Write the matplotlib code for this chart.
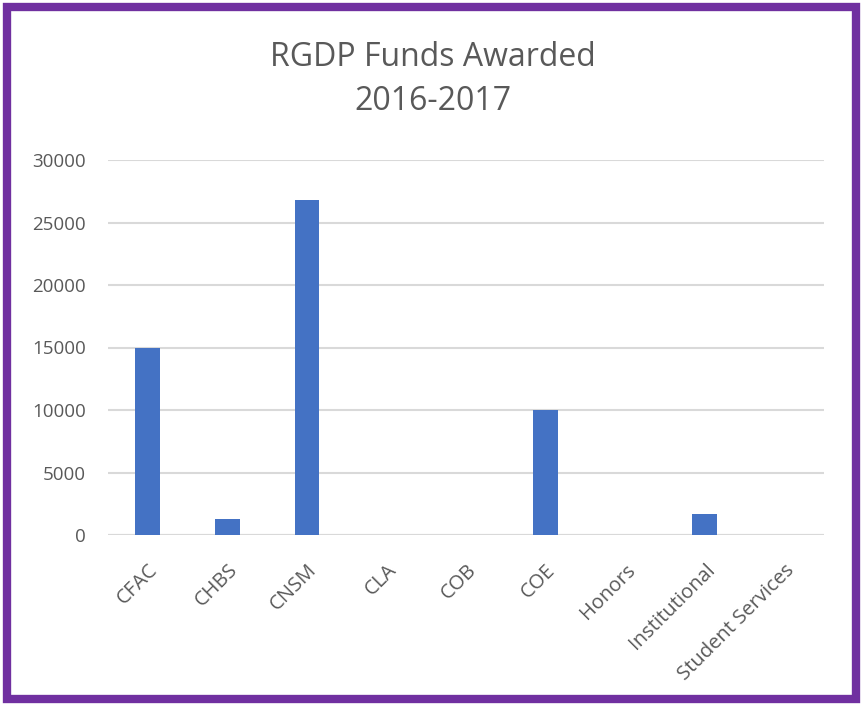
import matplotlib.pyplot as plt
from matplotlib.patches import Rectangle

# -----------------------------------------------------
# Data
# -----------------------------------------------------
categories = ["CFAC", "CHBS", "CNSM", "CLA", "COB", "COE",
              "Honors", "Institutional", "Student Services"]
funds = [15000, 1250, 26800, 0, 0, 10000, 0, 1650, 0]
y_ticks = [0, 5000, 10000, 15000, 20000, 25000, 30000]

title_lines = ["RGDP Funds Awarded", "2016-2017"]

BAR_COLOR = "#4472C4"
GRID_COLOR = "#D9D9D9"
TEXT_COLOR = "#595959"
BORDER_COLOR = "#7030A0"

plt.rcParams["font.family"] = ["Open Sans", "DejaVu Sans"]

fig = plt.figure(figsize=(8.63, 7.06), dpi=100)
ax = fig.add_axes([108 / 863, 1 - 535 / 706, (824 - 108) / 863, (535 - 160) / 706])

x = list(range(len(categories)))
ax.bar(x, funds, width=0.31, color=BAR_COLOR, zorder=3)

ax.set_xlim(-0.5, len(categories) - 0.5)
ax.set_ylim(0, 30000)
ax.set_yticks(y_ticks)
ax.set_yticklabels([str(v) for v in y_ticks])
ax.set_xticks(x)
ax.set_xticklabels(categories, rotation=45, ha="right", rotation_mode="anchor")

ax.grid(axis="y", color=GRID_COLOR, linewidth=1.5, zorder=0)
ax.set_axisbelow(True)
for side in ["top", "right", "left", "bottom"]:
    ax.spines[side].set_visible(False)
ax.axhline(0, color=GRID_COLOR, linewidth=1.5, zorder=1)
ax.tick_params(axis="both", length=0, labelcolor=TEXT_COLOR)
ax.tick_params(axis="y", pad=16, labelsize=13.5)
ax.tick_params(axis="x", pad=18, labelsize=14.5)

fig.text(433 / 863, 1 - 57 / 706, title_lines[0], ha="center", va="center",
         fontsize=23, color=TEXT_COLOR)
fig.text(433 / 863, 1 - 102 / 706, title_lines[1], ha="center", va="center",
         fontsize=23, color=TEXT_COLOR)

# purple frame around the chart
frame = Rectangle((7 / 863, 7 / 706), 1 - 14 / 863, 1 - 14 / 706,
                  transform=fig.transFigure, fill=False,
                  edgecolor=BORDER_COLOR, linewidth=6)
fig.patches.append(frame)

fig.savefig("out.png", dpi=100)
